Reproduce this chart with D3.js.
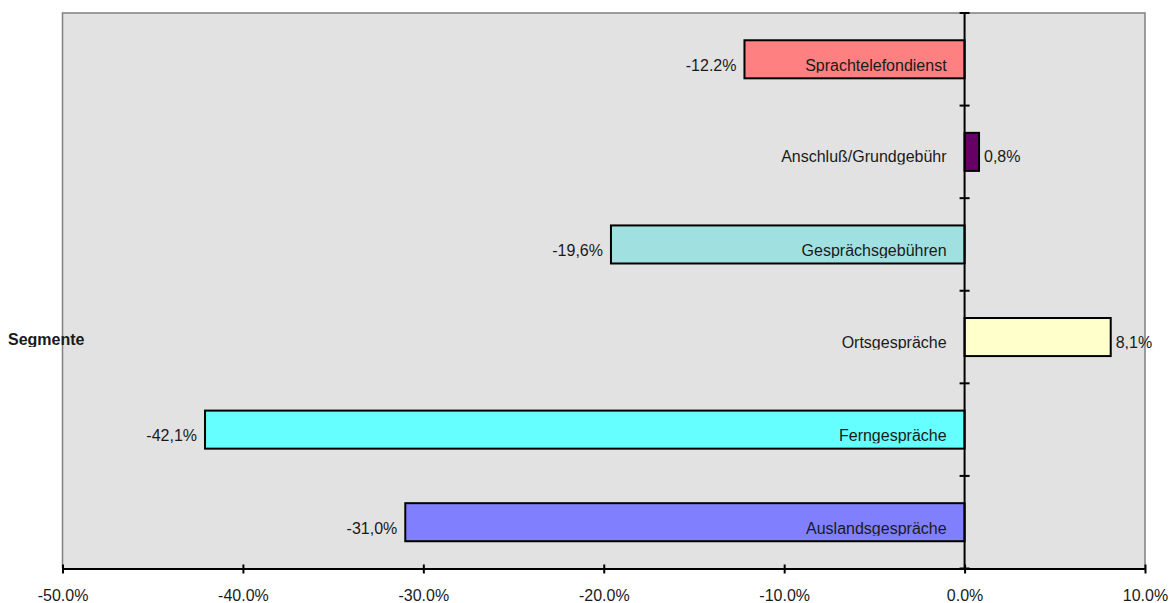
<!DOCTYPE html>
<html>
<head>
<meta charset="utf-8">
<script src="https://cdn.jsdelivr.net/npm/d3@7"></script>
<style>
  html, body { margin: 0; padding: 0; background: #ffffff; }
  svg { display: block; }
  text { font-family: "Liberation Sans", Arial, sans-serif; fill: #1a1a1a; }
</style>
</head>
<body>
<svg id="chart" width="1174" height="603"></svg>
<script>
// Segment categories, top to bottom
const categories = [
  "Sprachtelefondienst",
  "Anschluß/Grundgebühr",
  "Gesprächsgebühren",
  "Ortsgespräche",
  "Ferngespräche",
  "Auslandsgespräche"
];
// Change in percent per segment
const values = [-12.2, 0.8, -19.6, 8.1, -42.1, -31.0];
// Decimal separator used in each value label
const separators = [".", ",", ",", ",", ",", ","];
// Bar fill colours
const colors = ["#ff8080", "#660066", "#a0e0e0", "#ffffcc", "#66ffff", "#8080ff"];
// Value-axis ticks
const xTicks = [-50, -40, -30, -20, -10, 0, 10];
const axisTitle = "Segmente";

const W = 1174, H = 603;
const plot = { left: 62.5, right: 1145, top: 13, bottom: 568.5 };

const svg = d3.select("#chart");
const defs = svg.append("defs");

const x = d3.scaleLinear().domain([-50, 10]).range([plot.left, plot.right]);
const y = d3.scaleBand().domain(categories).range([plot.top, plot.bottom])
  .paddingInner(0.589).paddingOuter(0.2945);
const step = y.step();
const x0 = x(0);

// Plot area background
svg.append("rect")
  .attr("x", plot.left).attr("y", plot.top)
  .attr("width", plot.right - plot.left).attr("height", plot.bottom - plot.top)
  .attr("fill", "#e2e2e2");

// Bars
const rows = categories.map((c, i) => ({ cat: c, v: values[i], sep: separators[i], color: colors[i] }));

svg.append("g").selectAll("rect").data(rows).join("rect")
  .attr("x", d => x(Math.min(0, d.v)))
  .attr("y", d => y(d.cat))
  .attr("width", d => Math.abs(x(d.v) - x0))
  .attr("height", y.bandwidth())
  .attr("fill", d => d.color)
  .attr("stroke", "#000")
  .attr("stroke-width", 2);

// Plot area frame (top, left, right)
svg.append("path")
  .attr("d", `M${plot.left},${plot.bottom} V${plot.top} H${plot.right} V${plot.bottom}`)
  .attr("fill", "none").attr("stroke", "#808080").attr("stroke-width", 1.5);

// Category axis at zero, with cross ticks between categories
const catAxis = svg.append("g");
catAxis.append("line")
  .attr("x1", x0).attr("x2", x0)
  .attr("y1", plot.top).attr("y2", plot.bottom)
  .attr("stroke", "#000").attr("stroke-width", 2);
catAxis.selectAll("line.tick").data(d3.range(categories.length + 1)).join("line")
  .attr("class", "tick")
  .attr("x1", x0 - 5).attr("x2", x0 + 5)
  .attr("y1", i => plot.top + i * step).attr("y2", i => plot.top + i * step)
  .attr("stroke", "#000").attr("stroke-width", 2);

// Value axis at the bottom
const xAxis = d3.axisBottom(x)
  .tickValues(xTicks)
  .tickSizeInner(5).tickSizeOuter(0)
  .tickPadding(16)
  .tickFormat(d => d.toFixed(1) + "%");
const gx = svg.append("g").attr("transform", `translate(0,${plot.bottom})`).call(xAxis);
gx.select(".domain").attr("stroke", "#000").attr("stroke-width", 2);
gx.selectAll(".tick line").attr("stroke", "#000").attr("stroke-width", 2)
  .attr("y1", -4).attr("y2", 5);
gx.selectAll(".tick text")
  .attr("font-size", 16)
  .attr("font-family", "'Liberation Sans', Arial, sans-serif")
  .attr("fill", "#1a1a1a");

// Labels per bar (descenders trimmed just below the baseline)
const labels = svg.append("g");
rows.forEach((d, i) => {
  const cy = y(d.cat) + y.bandwidth() / 2;
  const base = d.v < 0 ? cy + 11.5 : cy + 10.5;
  const clipId = "clip-row-" + i;
  defs.append("clipPath").attr("id", clipId)
    .append("rect").attr("x", 0).attr("y", base - 30).attr("width", W).attr("height", 32);
  const g = labels.append("g").attr("clip-path", `url(#${clipId})`);
  g.append("text")
    .attr("x", x0 - 18).attr("y", base)
    .attr("text-anchor", "end").attr("font-size", 16)
    .text(d.cat);
  const valueText = d.v.toFixed(1).replace(".", d.sep) + "%";
  if (d.v < 0) {
    g.append("text")
      .attr("x", x(d.v) - 8).attr("y", base)
      .attr("text-anchor", "end").attr("font-size", 16)
      .text(valueText);
  } else {
    g.append("text")
      .attr("x", x(d.v) + 5).attr("y", base)
      .attr("text-anchor", "start").attr("font-size", 16)
      .text(valueText);
  }
});

// Category axis title
defs.append("clipPath").attr("id", "clip-title")
  .append("rect").attr("x", 0).attr("y", 315).attr("width", 200).attr("height", 32);
svg.append("text")
  .attr("clip-path", "url(#clip-title)")
  .attr("x", 8).attr("y", 345)
  .attr("font-size", 16).attr("font-weight", "bold")
  .text(axisTitle);
</script>
</body>
</html>
